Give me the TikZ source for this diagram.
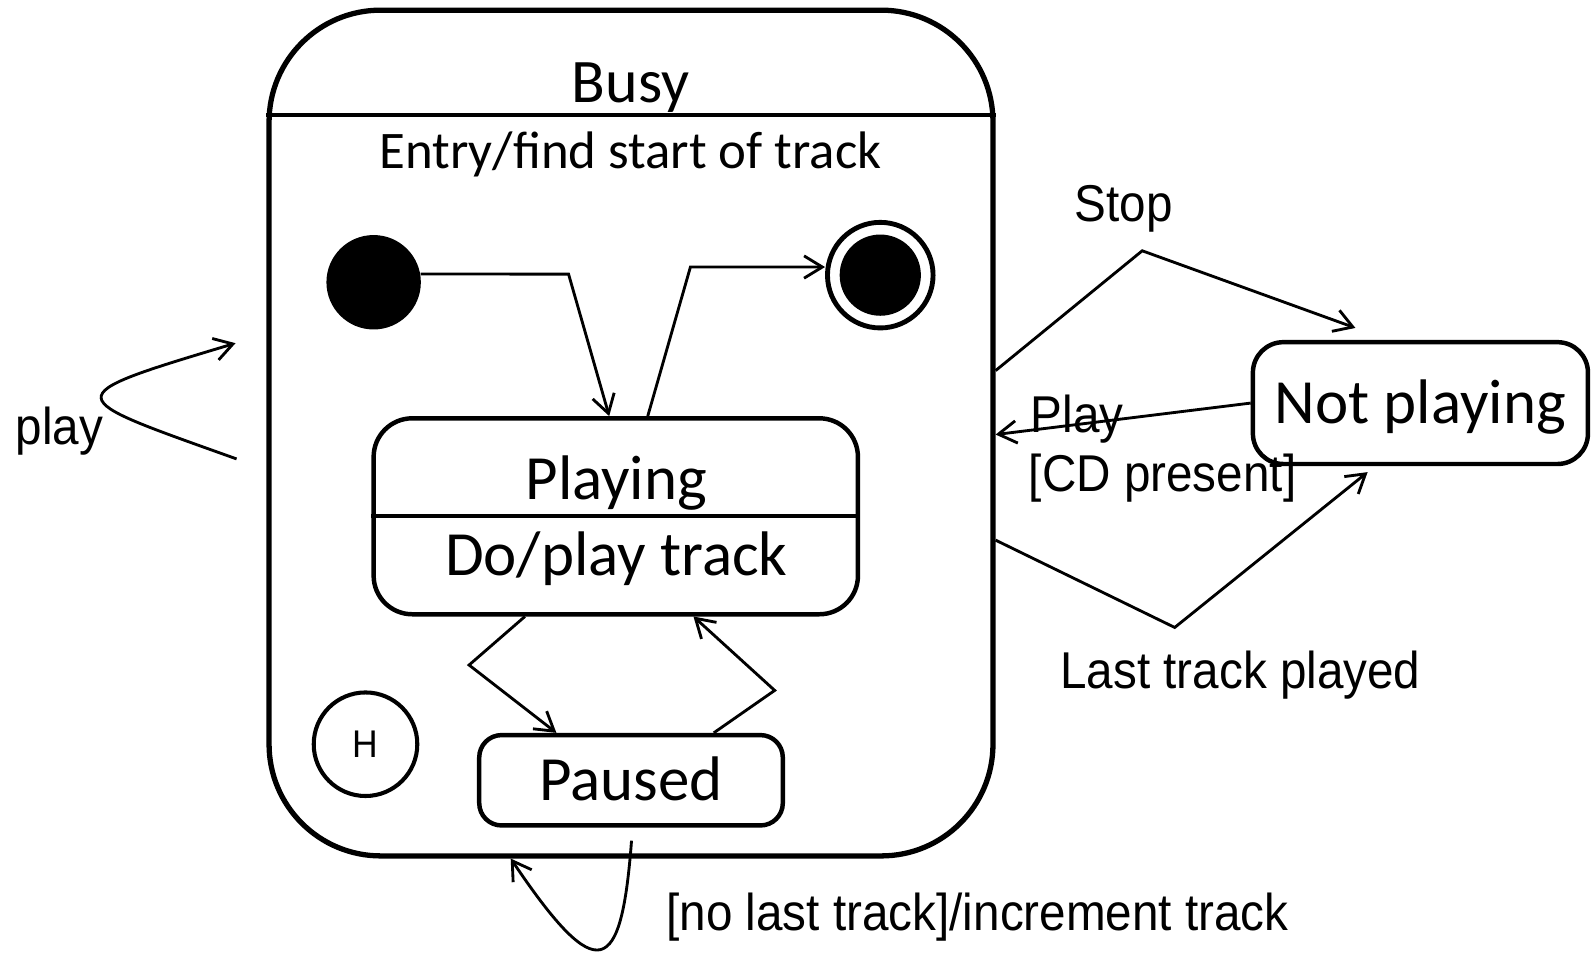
\documentclass[tikz,border=0pt]{standalone}
\usepackage{fontspec}
\setmainfont{Carlito}
\newfontfamily\lblfont[FakeStretch=0.92]{Liberation Sans}
\usetikzlibrary{arrows.meta}
\begin{document}
\begin{tikzpicture}[x=0.5pt,y=-0.5pt,
  statebox/.style={draw, line width=2.2pt, inner sep=0pt,
    font=\fontsize{31}{36}\selectfont, text height=20pt, text depth=0pt},
  statetxt/.style={inner sep=0pt, anchor=base, font=\fontsize{31}{36}\selectfont},
  lbl/.style={inner sep=0pt, anchor=base west, font=\lblfont\fontsize{25.5}{30}\selectfont},
  divider/.style={line width=1.8pt},
  conn/.style={line width=1.4pt},
  arr/.style={conn, -{Straight Barb[length=9pt,width=11pt]}}]
\useasboundingbox (0,0) rectangle (1568,942);

% composite state
\node[draw, line width=2.6pt, rounded corners=55pt, inner sep=0pt,
      minimum width=356.5pt, minimum height=416.5pt] (busy) at (621.5,426.5) {};
\draw[divider] (busy.west |- 0,113) -- (busy.east |- 0,113);
\node[statetxt, font=\fontsize{30.5}{36}\selectfont] (busyname) at (621,101) {Busy};
\node[statetxt, font=\fontsize{26}{30}\selectfont] (entry) at (621,166) {Entry/find start of track};

% pseudo states
\node[circle, fill, minimum size=46.5pt, inner sep=0pt] (init) at (368,278) {};
\node[circle, draw, line width=2.4pt, minimum size=52pt, inner sep=0pt] (final) at (867,271) {};
\fill (final.center) circle[radius=20pt];
\node[circle, draw, line width=2pt, minimum size=51pt, inner sep=0pt,
      font=\lblfont\fontsize{19}{20}\selectfont] (hist) at (360,733) {H};

% substates
\node[statebox, rounded corners=19pt, minimum width=238.5pt, minimum height=96.5pt] (playing) at (606.5,508.5) {};
\draw[divider] (playing.west) -- (playing.east);
\node[statetxt] (playname) at (607,492) {Playing};
\node[statetxt] (playdo) at (607,567) {Do/play track};
\node[statebox, rounded corners=11pt, minimum width=149.5pt, minimum height=44.5pt] (paused) at (621.5,768.5) {Paused};

% outer state
\node[statebox, rounded corners=15pt, minimum width=165pt, minimum height=60pt] (notplaying) at (1399,397) {Not playing};

% free connector ends
\coordinate (stopend) at (1335,323);
\coordinate (lastend) at (1347,465);
\coordinate (loopstart) at (622,828);
\coordinate (playin) at (233,452);
\coordinate (playout) at (232,338);

% transitions inside Busy
\draw[arr] (init.10) -- (560,270) -- (playing.north -| 600,0);
\draw[arr] (playing.north -| 638,0) -- (680,263) -- (final.west |- 0,263);
\draw[arr] (playing.south -| 517,0) -- (462,655) -- (paused.north -| 548,0);
\draw[arr] (paused.north -| 703,0) -- (763,680) -- (playing.south -| 683,0);
\draw[arr] (loopstart) .. controls (612,960) and (590,975) .. (busy.south -| 503,0);

% transitions to and from Not playing
\draw[arr] (busy.east |- 0,365) -- (1125,247) -- (stopend);
\draw[arr] (notplaying.west) -- (busy.east |- 0,428);
\draw[arr] (busy.east |- 0,532) -- (1157,618) -- (lastend);

% self transition on Busy
\draw[arr] (playin) .. controls (60,390) and (52,392) .. (playout);

% labels
\node[lbl] (playlbl) at (15,438) {play};
\node[lbl] (stoplbl) at (1058,218) {Stop};
\node[lbl] (cdlbl1) at (1015,426) {Play};
\node[lbl] (cdlbl2) at (1013,484) {[CD present]};
\node[lbl] (lastlbl) at (1044,678) {Last track played};
\node[lbl] (noltlbl) at (656,916) {[no last track]/increment track};
\end{tikzpicture}
\end{document}
